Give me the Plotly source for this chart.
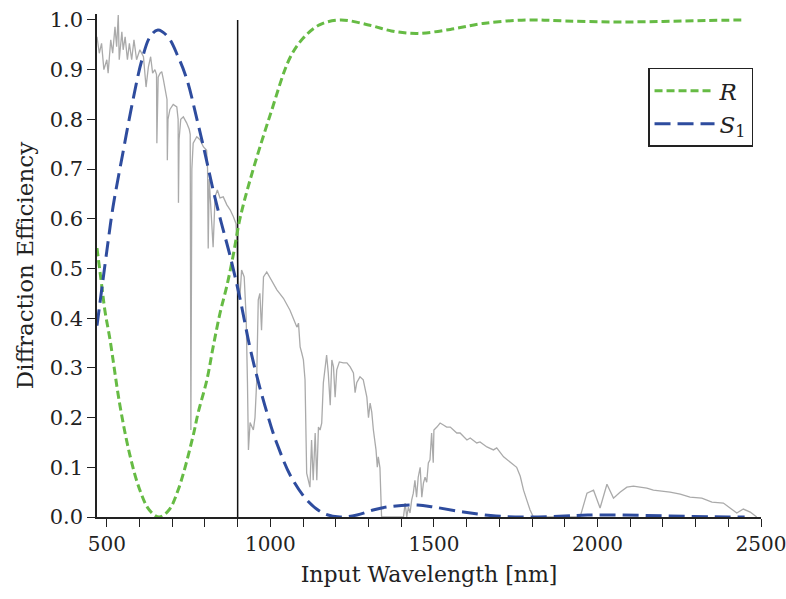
import plotly.graph_objects as go

# ---- Data -------------------------------------------------------------
# Normalised solar spectrum (grey background curve)
spec_nm = [470, 477, 484, 491, 500, 504, 512, 518, 525, 530, 535, 538, 546, 550, 556, 563,
           569, 576, 583, 591, 601, 612, 620, 627, 634, 640, 647, 652, 653, 655, 657, 663,
           668, 673, 678, 684, 685, 687, 693, 703, 714, 718, 719, 721, 726, 734, 744, 752,
           755, 757, 760, 764, 775, 785, 795, 805, 808, 810, 813, 820, 825, 831, 838, 846,
           856, 867, 877, 887, 895, 897, 899, 902, 907, 912, 920, 926, 930, 933, 938, 948,
           953, 958, 963, 968, 973, 979, 989, 999, 1009, 1020, 1040, 1060, 1075, 1081, 1086,
           1091, 1096, 1101, 1106, 1111, 1116, 1121, 1126, 1131, 1137, 1142, 1147, 1152, 1157,
           1162, 1172, 1177, 1183, 1188, 1193, 1198, 1203, 1211, 1223, 1234, 1244, 1254, 1259,
           1264, 1274, 1284, 1295, 1300, 1305, 1310, 1315, 1323, 1327, 1330, 1335, 1340, 1407,
           1412, 1417, 1422, 1427, 1432, 1437, 1442, 1447, 1452, 1458, 1463, 1468, 1473, 1478,
           1483, 1488, 1493, 1498, 1500, 1509, 1519, 1529, 1539, 1550, 1560, 1570, 1580, 1601,
           1611, 1631, 1641, 1662, 1682, 1692, 1713, 1733, 1753, 1764, 1774, 1784, 1794, 1804,
           1947, 1968, 1988, 2008, 2029, 2049, 2069, 2090, 2110, 2130, 2151, 2171, 2222, 2253,
           2283, 2319, 2350, 2385, 2426, 2446, 2467, 2487]
spec_val = [0.966, 0.933, 0.953, 0.900, 0.920, 0.893, 0.960, 0.933, 0.986, 0.946, 1.010, 0.920,
            0.976, 0.940, 0.966, 0.920, 0.953, 0.920, 0.960, 0.920, 0.940, 0.926, 0.865, 0.905,
            0.926, 0.893, 0.900, 0.890, 0.752, 0.880, 0.885, 0.893, 0.896, 0.880, 0.860, 0.840,
            0.718, 0.800, 0.820, 0.830, 0.825, 0.800, 0.632, 0.760, 0.800, 0.805, 0.793, 0.780,
            0.770, 0.175, 0.700, 0.752, 0.765, 0.759, 0.745, 0.738, 0.700, 0.540, 0.680, 0.610,
            0.543, 0.644, 0.658, 0.642, 0.644, 0.628, 0.618, 0.604, 0.590, 0.557, 0.511, 0.477,
            0.443, 0.497, 0.483, 0.402, 0.270, 0.135, 0.190, 0.175, 0.200, 0.270, 0.437, 0.450,
            0.376, 0.483, 0.493, 0.481, 0.471, 0.457, 0.440, 0.416, 0.392, 0.382, 0.390, 0.342,
            0.330, 0.316, 0.276, 0.088, 0.074, 0.060, 0.155, 0.074, 0.169, 0.074, 0.181, 0.175,
            0.189, 0.270, 0.326, 0.290, 0.225, 0.316, 0.302, 0.241, 0.296, 0.312, 0.310, 0.310,
            0.302, 0.290, 0.250, 0.270, 0.282, 0.276, 0.241, 0.200, 0.229, 0.211, 0.175, 0.135,
            0.100, 0.121, 0.099, 0.000, 0.000, 0.028, 0.000, 0.020, 0.008, 0.034, 0.048, 0.074,
            0.040, 0.080, 0.100, 0.040, 0.068, 0.080, 0.070, 0.109, 0.115, 0.169, 0.109, 0.175,
            0.181, 0.189, 0.185, 0.181, 0.181, 0.175, 0.169, 0.169, 0.155, 0.159, 0.149, 0.151,
            0.141, 0.135, 0.139, 0.121, 0.111, 0.100, 0.082, 0.054, 0.034, 0.014, 0.000, 0.000,
            0.048, 0.054, 0.018, 0.066, 0.038, 0.050, 0.060, 0.062, 0.060, 0.058, 0.054, 0.050,
            0.046, 0.040, 0.038, 0.030, 0.028, 0.008, 0.016, 0.010, 0.000]

# Zeroth-order (R) diffraction efficiency
r_nm = [470, 485, 494, 510, 540, 570, 600, 630, 660, 690, 720, 763, 779, 806, 825, 846, 867,
        886, 907, 938, 1000, 1060, 1100, 1150, 1213, 1300, 1370, 1450, 1550, 1650, 1785, 1900,
        2050, 2200, 2330, 2450]
r_val = [0.541, 0.463, 0.416, 0.356, 0.225, 0.126, 0.056, 0.014, 0.000, 0.014, 0.058, 0.161,
         0.209, 0.276, 0.342, 0.410, 0.465, 0.525, 0.600, 0.678, 0.810, 0.924, 0.963, 0.990,
         1.000, 0.990, 0.978, 0.973, 0.981, 0.993, 1.000, 0.998, 0.996, 0.997, 0.999, 1.000]

# First-order (S1) diffraction efficiency
s_nm = [470, 500, 519, 549, 580, 607, 632, 656, 687, 718, 745, 776, 800, 825, 850, 877, 907,
        938, 968, 1008, 1020, 1060, 1112, 1161, 1213, 1265, 1314, 1366, 1450, 1500, 1590, 1690,
        1790, 1900, 1970, 2070, 2220, 2400, 2450]
s_val = [0.385, 0.535, 0.624, 0.732, 0.839, 0.919, 0.966, 0.980, 0.966, 0.926, 0.880, 0.799,
         0.732, 0.658, 0.592, 0.525, 0.440, 0.340, 0.260, 0.170, 0.148, 0.085, 0.034, 0.008,
         0.000, 0.004, 0.014, 0.021, 0.024, 0.020, 0.010, 0.002, 0.000, 0.002, 0.004, 0.004,
         0.002, 0.000, 0.000]

design_wavelength = 900  # vertical marker (nm)

x_range = [470, 2500]
y_range = [0, 1.012]
y_ticks = [0.0, 0.1, 0.2, 0.3, 0.4, 0.5, 0.6, 0.7, 0.8, 0.9, 1.0]
x_ticks = [500, 1000, 1500, 2000, 2500]

# ---- Figure -----------------------------------------------------------
FONT = "DejaVu Serif"
AX = "#222222"

fig = go.Figure()

fig.add_trace(go.Scatter(x=spec_nm, y=spec_val, mode="lines",
                         line=dict(color="#aaaaaa", width=1.3),
                         showlegend=False, hoverinfo="skip"))

fig.add_trace(go.Scatter(x=[design_wavelength, design_wavelength], y=[0, 1.0], mode="lines",
                         line=dict(color="#111111", width=1.5),
                         showlegend=False, hoverinfo="skip"))

fig.add_trace(go.Scatter(x=r_nm, y=r_val, mode="lines", name="<i>R</i>",
                         line=dict(color="#66bb44", width=3, dash="8px,4px",
                                   shape="spline", smoothing=1.0)))

fig.add_trace(go.Scatter(x=s_nm, y=s_val, mode="lines", name="<i>S</i><sub>1</sub>",
                         line=dict(color="#2e4c9e", width=3, dash="16px,7px",
                                   shape="spline", smoothing=1.0)))

fig.update_layout(
    width=786, height=599,
    margin=dict(l=97, r=25, t=14, b=82, autoexpand=False),
    paper_bgcolor="white", plot_bgcolor="white",
    font=dict(family=FONT, size=21, color="#222222"),
    showlegend=True,
    legend=dict(x=0.988, y=0.893, xanchor="right", yanchor="top",
                bordercolor="#222222", borderwidth=1.5, bgcolor="white",
                font=dict(family=FONT, size=23, color="#222222"),
                itemwidth=60, tracegroupgap=0),
)

fig.update_xaxes(
    range=x_range, tickmode="array", tickvals=x_ticks,
    ticktext=[str(v) for v in x_ticks],
    showgrid=False, zeroline=False, automargin=False,
    ticklabeloverflow="allow",
    showline=True, linecolor=AX, linewidth=1.5,
    ticks="outside", ticklen=8, tickwidth=1.3, tickcolor=AX,
    tickfont=dict(family=FONT, size=20),
    minor=dict(dtick=100, tick0=0, ticks="outside", ticklen=8, tickwidth=1.3, tickcolor=AX,
               showgrid=False),
    title=dict(text="Input Wavelength [nm]", font=dict(family=FONT, size=22), standoff=12),
)

fig.update_yaxes(
    range=y_range, tickmode="array", tickvals=y_ticks,
    ticktext=[f"{v:.1f}" for v in y_ticks],
    showgrid=False, zeroline=False, automargin=False,
    ticklabeloverflow="allow",
    showline=True, linecolor=AX, linewidth=1.5,
    ticks="outside", ticklen=8, tickwidth=1.3, tickcolor=AX,
    tickfont=dict(family=FONT, size=21),
    title=dict(text="Diffraction Efficiency", font=dict(family=FONT, size=23), standoff=10),
)

fig.write_html("out.html")
